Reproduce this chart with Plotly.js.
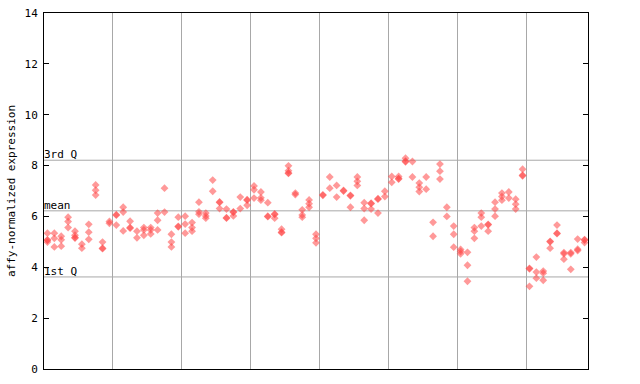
<!DOCTYPE html>
<html><head><meta charset="utf-8">
<script src="https://cdn.plot.ly/plotly-3.0.1.min.js"></script>
<style>html,body{margin:0;padding:0;background:#fff}#c{width:640px;height:384px}</style>
</head><body><div id="c"></div>
<script>
// values per sample (replicates)
const sampleValues = [
 [5.34,5.08,5.06,4.99],[5.34,5.14,4.80],[5.22,5.08,4.83],[5.97,5.80,5.56],[5.42,5.26,5.17,5.15],
 [4.91,4.75],[5.69,5.38,5.10],[7.24,7.03,6.84],[4.99,4.75,4.73],[5.80,5.73],
 [6.07,6.05,5.66],[6.36,6.17,5.43],[5.81,5.56,5.54],[5.42,5.16],[5.56,5.47,5.26],
 [5.56,5.47,5.31],[6.13,5.85,5.47],[7.11,6.17],[5.30,4.99,4.80],[5.97,5.61,5.59],
 [6.01,5.70,5.34],[5.76,5.56,5.42],[6.56,6.18,6.09],[6.13,6.02,5.93],[7.43,6.99],
 [6.57,6.55,6.31],[6.29,5.95,5.93],[6.18,6.16,6.02],[6.76,6.31],[6.66,6.64,6.44],
 [7.20,7.05,6.72],[6.96,6.73,6.64],[6.54,6.01,5.99],[6.10,6.08,5.93],[5.50,5.38,5.36],
 [7.99,7.80,7.71,7.69],[6.92,6.86],[6.26,6.06,5.97],[6.65,6.50,6.36],[5.30,5.14,4.96],
 [6.85,6.83],[7.55,7.11],[7.22,6.76],[7.02,7.00],[6.83,6.81,6.36],
 [7.55,7.38,7.22],[6.54,6.31,5.85],[6.52,6.50,6.29],[6.70,6.68,6.13],[6.99,6.78],
 [7.57,7.34],[7.57,7.49,7.47],[8.29,8.17,8.15],[8.16,7.55],[7.31,7.15,6.98],
 [7.55,7.07],[5.77,5.22],[8.06,7.78,7.47],[6.36,6.00],[5.62,5.30,4.79],
 [4.70,4.62,4.53],[4.59,4.08,3.45],[5.56,5.42,5.14],[6.13,5.97,5.62],[5.69,5.67,5.42],
 [6.56,6.29,6.01],[6.92,6.78,6.64],[6.96,6.72],[6.68,6.48,6.29],[7.86,7.62,7.60],
 [3.96,3.94,3.25],[4.40,3.81,3.57],[3.85,3.77,3.49],[5.02,5.00,4.75],[5.66,5.34,5.32],
 [4.58,4.53,4.32],[4.58,4.53,3.92],[5.11,4.71,4.66],[5.09,5.07,4.97]
];
const quantileLabels = ["3rd Q","mean","1st Q"];
const quantileValues = [8.21,6.22,3.62];
const yTicks = [0,2,4,6,8,10,12,14];
const groupBoundaries = [10,20,30,40,50,60,70];

const xs=[], ys=[];
sampleValues.forEach((vals,i)=>vals.forEach(v=>{xs.push(i+0.5); ys.push(v);}));

const font = {family:"DejaVu Sans Mono, monospace", size:11, color:"#000"};
const grid = "#a8a8a8";

const shapes = quantileValues.map(q=>({type:"line", xref:"paper", x0:0, x1:1, yref:"y", y0:q, y1:q,
  line:{color:grid, width:1}, layer:"below"}));
const annotations = quantileValues.map((q,k)=>({xref:"paper", x:0, xanchor:"left", yref:"y", y:q,
  yanchor:"bottom", text:quantileLabels[k], showarrow:false, font:font, xshift:-2, yshift:-3}));

Plotly.newPlot("c",[{
  type:"scatter", mode:"markers", x:xs, y:ys,
  marker:{symbol:"diamond", size:6, color:"rgba(255,70,70,0.55)", line:{width:0}},
  hoverinfo:"skip"
}],{
  width:640, height:384,
  margin:{l:44, r:52, t:13, b:15, pad:0},
  paper_bgcolor:"#fff", plot_bgcolor:"#fff",
  showlegend:false,
  font:font,
  xaxis:{range:[0,79], tickvals:groupBoundaries, showticklabels:false, ticks:"",
    showgrid:true, gridcolor:grid, gridwidth:1, zeroline:false,
    showline:true, linecolor:"#000", linewidth:1, mirror:true, fixedrange:true},
  yaxis:{range:[0,14], tickvals:yTicks, ticktext:yTicks.map(String), ticks:"inside", ticklen:5,
    tickcolor:"#000", showgrid:false, zeroline:false, showline:true, linecolor:"#000", linewidth:1,
    mirror:"ticks", tickfont:font, ticklabelstandoff:3,
    title:{text:"affy-normalized expression", font:font, standoff:6}},
  shapes:shapes, annotations:annotations
},{staticPlot:true});
</script></body></html>
